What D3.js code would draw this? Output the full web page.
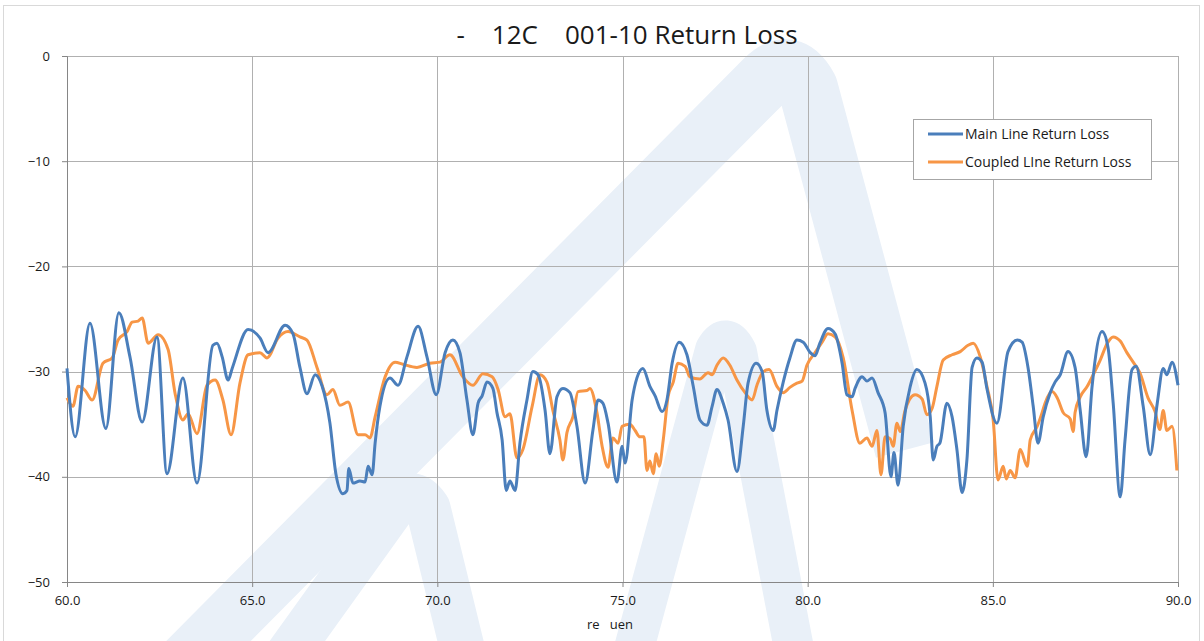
<!DOCTYPE html>
<html>
<head>
<meta charset="utf-8">
<script src="https://cdn.jsdelivr.net/npm/d3@7"></script>
<style>
  body { margin: 0; background: #fff; }
  svg text { font-family: "Open Sans", "Liberation Sans", sans-serif; fill: #1a1a1a; }
</style>
</head>
<body>
<script>
// chart texts
const chartTitle = "-    12C    001-10 Return Loss";
const xAxisTitle = "re   uen";
const seriesNames = ["Main Line Return Loss", "Coupled LIne Return Loss"];
const seriesColors = ["#4a7ebb", "#f79646"];

// axis ticks
const xTicks = [60, 65, 70, 75, 80, 85, 90];
const yTicks = [0, -10, -20, -30, -40, -50];

// main line, frequency (GHz) and return loss (dB)
const mainFreq = [60.00, 60.22, 60.62, 61.05, 61.40, 61.70, 62.03, 62.43, 62.70, 63.13, 63.51, 63.94, 64.05, 64.19, 64.35, 64.46,
  64.89, 65.21, 65.43, 65.89, 66.10, 66.29, 66.48, 66.70, 66.89, 67.10, 67.26, 67.45, 67.56, 67.61, 67.72, 67.91, 68.05, 68.13,
  68.24, 68.32, 68.45, 68.72, 68.94, 69.18, 69.48, 69.72, 69.97, 70.21, 70.42, 70.61, 70.80, 70.96, 71.10, 71.21, 71.34, 71.50,
  71.61, 71.75, 71.86, 71.96, 72.10, 72.23, 72.42, 72.58, 72.72, 72.91, 73.04, 73.23, 73.39, 73.58, 73.77, 73.99, 74.20, 74.34,
  74.47, 74.61, 74.85, 74.99, 75.07, 75.26, 75.39, 75.55, 75.74, 75.88, 76.07, 76.20, 76.34, 76.53, 76.74, 76.91, 77.09, 77.28,
  77.42, 77.55, 77.72, 77.85, 78.09, 78.26, 78.39, 78.61, 78.77, 78.90, 79.07, 79.17, 79.34, 79.52, 79.71, 79.88, 80.07, 80.20,
  80.33, 80.55, 80.74, 80.93, 81.06, 81.20, 81.28, 81.47, 81.60, 81.74, 81.90, 82.09, 82.25, 82.33, 82.44, 82.58, 82.77, 82.95,
  83.17, 83.31, 83.39, 83.49, 83.57, 83.76, 83.90, 84.03, 84.17, 84.30, 84.44, 84.57, 84.71, 84.84, 85.11, 85.41, 85.66, 85.79,
  85.95, 86.09, 86.22, 86.36, 86.55, 86.68, 86.82, 87.03, 87.22, 87.36, 87.52, 87.68, 87.95, 88.11, 88.25, 88.44, 88.57, 88.76,
  88.87, 89.06, 89.25, 89.44, 89.60, 89.70, 89.84, 90.00];
const mainLoss = [-29.7, -36.2, -25.4, -35.4, -24.4, -28.6, -34.8, -26.7, -39.7, -30.6, -40.6, -27.5, -27.3, -28.6, -30.8, -29.7,
  -26.0, -26.8, -28.2, -25.6, -26.4, -29.6, -32.1, -30.3, -31.4, -34.9, -39.7, -41.6, -41.3, -39.2, -40.6, -40.4, -40.5, -39.0,
  -39.8, -36.8, -33.3, -30.6, -31.3, -28.6, -25.7, -28.6, -32.2, -28.2, -27.0, -28.2, -32.7, -36.0, -33.0, -32.3, -31.0, -31.6,
  -33.9, -36.5, -41.3, -40.4, -41.3, -36.8, -32.7, -30.0, -30.3, -33.7, -37.8, -32.4, -31.6, -32.0, -35.2, -40.6, -35.6, -32.7,
  -33.0, -34.9, -40.5, -37.1, -38.7, -32.7, -30.6, -29.7, -31.4, -32.3, -33.8, -32.7, -29.2, -27.2, -28.4, -31.4, -34.6, -35.1,
  -33.3, -31.7, -33.0, -34.6, -39.5, -35.2, -31.1, -29.2, -30.0, -33.7, -35.6, -33.7, -31.0, -28.7, -27.0, -27.2, -28.2, -28.5,
  -27.3, -25.9, -26.4, -29.2, -32.2, -32.4, -31.6, -30.5, -30.9, -30.6, -32.0, -33.9, -40.0, -37.7, -40.8, -35.2, -31.4, -29.8,
  -31.1, -34.3, -38.4, -37.1, -36.8, -33.0, -34.3, -37.4, -41.5, -38.4, -29.6, -28.7, -29.1, -31.6, -34.9, -28.1, -27.0, -27.2,
  -29.6, -33.3, -36.8, -34.3, -32.0, -31.0, -30.3, -28.1, -29.6, -33.7, -38.1, -31.4, -26.2, -27.7, -33.0, -41.9, -36.5, -29.8,
  -29.5, -33.3, -37.9, -33.0, -29.7, -30.3, -29.1, -31.3];

// coupled line
const coupledFreq = [60.00, 60.16, 60.30, 60.49, 60.68, 60.97, 61.22, 61.38, 61.62, 61.76, 61.92, 62.03, 62.19, 62.46, 62.73, 62.92,
  63.13, 63.27, 63.51, 63.78, 64.00, 64.21, 64.43, 64.67, 64.89, 65.21, 65.40, 65.70, 65.97, 66.29, 66.48, 66.75, 67.02, 67.18,
  67.37, 67.59, 67.86, 68.05, 68.18, 68.32, 68.59, 68.86, 69.07, 69.45, 69.80, 70.07, 70.34, 70.69, 70.96, 71.23, 71.48, 71.64,
  71.83, 71.96, 72.15, 72.31, 72.56, 72.77, 72.96, 73.12, 73.31, 73.39, 73.50, 73.66, 73.80, 74.04, 74.12, 74.31, 74.45, 74.61,
  74.74, 74.88, 74.99, 75.20, 75.34, 75.47, 75.58, 75.66, 75.74, 75.83, 75.91, 75.99, 76.10, 76.23, 76.37, 76.50, 76.69, 76.82,
  77.09, 77.31, 77.42, 77.55, 77.72, 77.90, 78.09, 78.31, 78.50, 78.63, 78.80, 78.96, 79.17, 79.34, 79.52, 79.71, 79.85, 79.98,
  80.20, 80.39, 80.55, 80.74, 80.96, 81.20, 81.41, 81.60, 81.74, 81.87, 81.98, 82.09, 82.23, 82.31, 82.41, 82.50, 82.63, 82.90,
  83.09, 83.22, 83.36, 83.49, 83.66, 83.90, 84.12, 84.33, 84.47, 84.66, 84.84, 85.01, 85.14, 85.28, 85.36, 85.47, 85.60, 85.74,
  85.93, 86.01, 86.20, 86.33, 86.41, 86.60, 86.74, 86.90, 87.09, 87.17, 87.22, 87.36, 87.55, 87.71, 87.90, 88.09, 88.25, 88.44,
  88.62, 88.79, 88.98, 89.19, 89.38, 89.51, 89.60, 89.70, 89.84, 89.97];
const coupledLoss = [-32.5, -33.3, -31.4, -31.8, -32.7, -29.2, -28.7, -27.0, -26.2, -25.3, -25.2, -24.9, -27.3, -26.5, -27.9, -32.1,
  -34.6, -34.0, -35.9, -31.3, -30.8, -32.7, -36.0, -31.1, -28.4, -28.2, -28.7, -26.8, -26.2, -26.7, -27.0, -29.6, -32.2, -31.7,
  -33.2, -32.9, -36.0, -36.0, -36.3, -34.3, -30.5, -29.1, -29.3, -29.6, -29.2, -29.1, -28.4, -30.5, -31.3, -30.2, -30.5, -31.7,
  -34.3, -34.0, -38.2, -37.4, -33.3, -30.3, -31.0, -33.7, -36.5, -38.4, -35.8, -34.3, -31.9, -31.8, -31.6, -33.9, -37.1, -39.1,
  -36.3, -36.8, -35.2, -35.0, -35.6, -36.2, -36.2, -39.4, -38.5, -39.7, -37.8, -39.0, -36.5, -32.4, -31.0, -29.2, -29.5, -30.5,
  -30.7, -30.1, -30.3, -29.4, -28.7, -29.4, -30.8, -32.0, -32.7, -31.3, -30.0, -29.8, -31.4, -32.0, -31.5, -31.1, -30.9, -29.4,
  -28.2, -27.2, -26.4, -26.7, -28.7, -33.7, -36.8, -36.3, -37.1, -35.6, -39.8, -36.2, -36.4, -37.1, -34.9, -35.7, -33.7, -32.2,
  -32.6, -34.1, -33.5, -31.4, -28.9, -28.4, -28.1, -27.5, -27.3, -28.6, -31.4, -34.6, -40.3, -39.0, -40.2, -39.4, -40.1, -37.4,
  -39.0, -36.5, -35.2, -33.9, -33.0, -31.9, -32.5, -33.9, -34.5, -35.7, -33.9, -32.4, -31.4, -30.3, -28.9, -27.3, -26.7, -27.1,
  -28.2, -29.1, -30.2, -32.5, -33.8, -35.5, -33.7, -35.6, -35.2, -39.4];

const width = 1204, height = 641;
const margin = { top: 56, right: 26, bottom: 59, left: 67 };
const plotW = width - margin.left - margin.right;
const plotH = height - margin.top - margin.bottom;

const svg = d3.select("body").append("svg")
    .attr("width", width)
    .attr("height", height);

// outer chart border
svg.append("rect")
    .attr("x", 3.5).attr("y", 5.5)
    .attr("width", 1196).attr("height", 660)
    .attr("fill", "#fff")
    .attr("stroke", "#d9d9d9");

// faint logo watermark behind the plot (rough shape)
const wm = svg.append("g")
    .attr("fill", "none")
    .attr("stroke", "#e9f0f8")
    .attr("stroke-linejoin", "round");
wm.append("path").attr("stroke-width", 60)
    .attr("d", "M150,700 L765,80 Q790,55 808,88 L905,450");
wm.append("path").attr("stroke-width", 45)
    .attr("d", "M255,700 L395,505 Q412,485 428,508 L470,680");
wm.append("path").attr("stroke-width", 40)
    .attr("d", "M620,700 L715,350 Q726,330 737,352 L800,680");

const g = svg.append("g")
    .attr("transform", `translate(${margin.left},${margin.top})`);

const x = d3.scaleLinear().domain([60, 90]).range([0, plotW]);
const y = d3.scaleLinear().domain([-50, 0]).range([plotH, 0]);

// gridlines
g.append("g")
    .selectAll("line.h")
    .data(yTicks)
    .join("line")
    .attr("x1", 0).attr("x2", plotW)
    .attr("y1", d => Math.round(y(d)) + 0.5)
    .attr("y2", d => Math.round(y(d)) + 0.5)
    .attr("stroke", "#b0b0b0");
g.append("g")
    .selectAll("line.v")
    .data(xTicks)
    .join("line")
    .attr("x1", d => Math.round(x(d)) + 0.5)
    .attr("x2", d => Math.round(x(d)) + 0.5)
    .attr("y1", 0).attr("y2", plotH)
    .attr("stroke", "#b0b0b0");

// axes
const yAxis = g.append("g")
    .call(d3.axisLeft(y).tickValues(yTicks).tickSize(5).tickPadding(10).tickFormat(d3.format("d")));
const xAxis = g.append("g")
    .attr("transform", `translate(0,${plotH})`)
    .call(d3.axisBottom(x).tickValues(xTicks).tickSize(5).tickPadding(9).tickFormat(d3.format(".1f")));
[xAxis, yAxis].forEach(a => {
    a.select(".domain").attr("stroke", "#868686");
    a.selectAll(".tick line").attr("stroke", "#868686");
    a.selectAll(".tick text")
        .style("font-family", "'Open Sans', sans-serif")
        .style("font-size", "13px")
        .attr("fill", "#1a1a1a");
});
yAxis.selectAll(".tick text").attr("dx", "-2");

// lines
const line = d3.line()
    .x(d => x(d[0]))
    .y(d => y(d[1]))
    .curve(d3.curveMonotoneX);

const series = [
    d3.zip(mainFreq, mainLoss),
    d3.zip(coupledFreq, coupledLoss)
];

// coupled drawn first, main on top where they cross
[1, 0].forEach(i => {
    g.append("path")
        .datum(series[i])
        .attr("fill", "none")
        .attr("stroke", seriesColors[i])
        .attr("stroke-width", 3)
        .attr("stroke-linejoin", "round")
        .attr("d", line);
});

// title
svg.append("text")
    .attr("x", 627)
    .attr("y", 44)
    .attr("text-anchor", "middle")
    .style("font-size", "26px")
    .style("white-space", "pre")
    .text(chartTitle);

// x axis title
svg.append("text")
    .attr("x", 610)
    .attr("y", 629)
    .attr("text-anchor", "middle")
    .style("font-size", "13px")
    .style("white-space", "pre")
    .text(xAxisTitle);

// legend
const legend = svg.append("g").attr("transform", "translate(913,119)");
legend.append("rect")
    .attr("x", 0.5).attr("y", 0.5)
    .attr("width", 238).attr("height", 60)
    .attr("fill", "#fff")
    .attr("stroke", "#a6a6a6");
seriesNames.forEach((name, i) => {
    const row = legend.append("g").attr("transform", `translate(0,${15 + i * 28})`);
    row.append("line")
        .attr("x1", 15).attr("x2", 50)
        .attr("stroke", seriesColors[i])
        .attr("stroke-width", 3);
    row.append("text")
        .attr("x", 52)
        .attr("y", 5)
        .style("font-size", "14px")
        .text(name);
});
</script>
</body>
</html>
